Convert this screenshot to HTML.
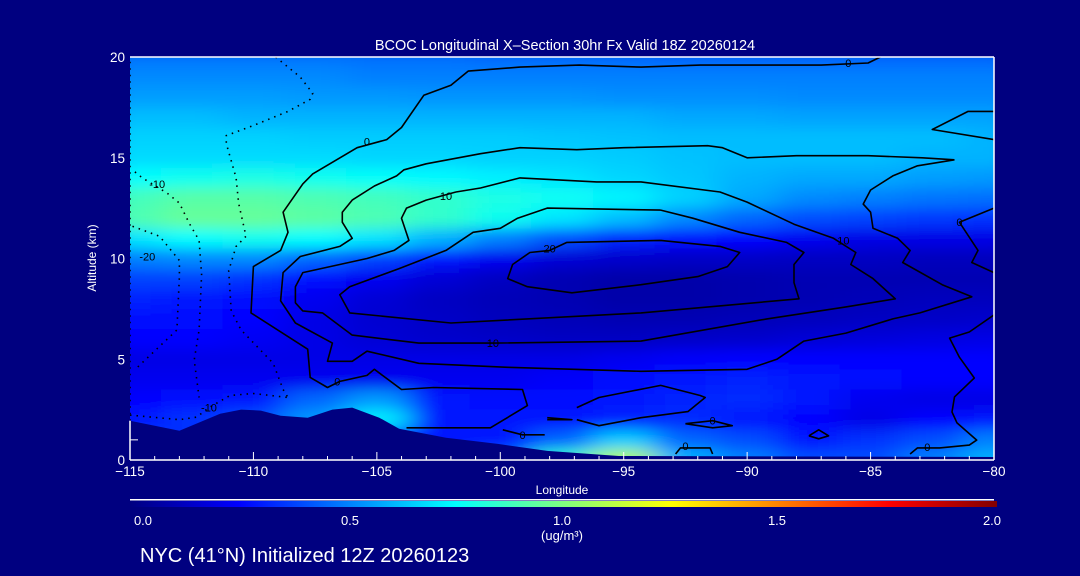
<!DOCTYPE html>
<html><head><meta charset="utf-8">
<style>
html,body{margin:0;padding:0;background:#000080;}
svg{display:block;font-family:"Liberation Sans",sans-serif;}
</style></head>
<body>
<svg id="chart" width="1080" height="576" viewBox="0 0 1080 576" xmlns="http://www.w3.org/2000/svg">
<defs>
  <clipPath id="plotclip"><rect x="130" y="57" width="864" height="403"/></clipPath>
  <filter id="smooth" x="-5%" y="-5%" width="110%" height="110%">
    <feGaussianBlur stdDeviation="16 7" edgeMode="duplicate"/>
  </filter>
  <linearGradient id="jet" x1="0" x2="1" y1="0" y2="0">
    <stop offset="0" stop-color="#000080"/>
    <stop offset="0.125" stop-color="#0000ff"/>
    <stop offset="0.375" stop-color="#00ffff"/>
    <stop offset="0.625" stop-color="#ffff00"/>
    <stop offset="0.875" stop-color="#ff0000"/>
    <stop offset="1" stop-color="#800000"/>
  </linearGradient>
</defs>
<rect x="0" y="0" width="1080" height="576" fill="#000080"/>
<text x="565" y="50" fill="#fff" font-size="14.5" text-anchor="middle">BCOC Longitudinal X–Section 30hr  Fx Valid 18Z 20260124</text>
<g id="field" clip-path="url(#plotclip)"><g id="cells" filter="url(#smooth)"></g></g>
<g id="terrain-g" clip-path="url(#plotclip)"></g>
<g id="contours" clip-path="url(#plotclip)"></g>
<g id="axes"></g>
<text transform="translate(96,258) rotate(-90)" fill="#fff" font-size="12" text-anchor="middle">Altitude (km)</text>
<text x="562" y="494" fill="#fff" font-size="12" text-anchor="middle">Longitude</text>
<rect x="130" y="499" width="864" height="1.5" fill="#fff"/>
<rect x="130" y="501" width="867" height="6" fill="url(#jet)"/>
<g fill="#fff" font-size="13" text-anchor="middle">
<text x="143" y="525">0.0</text>
<text x="350" y="525">0.5</text>
<text x="562" y="525">1.0</text>
<text x="777" y="525">1.5</text>
<text x="992" y="525">2.0</text>
<text x="562" y="540">(ug/m³)</text>
</g>
<text x="140" y="562" fill="#fff" font-size="20">NYC (41°N) Initialized 12Z 20260123</text>
</svg>
<script>
const lons=[-115,-112.5,-110,-107.5,-105,-102.5,-100,-97.5,-95,-92.5,-90,-87.5,-85,-82.5,-80];
const alts=[20,19,18,17,16,15,14,13,12,11,10,9,8,7,6,5,4,3,2,1,0];
const r20=[.48,.48,.48,.48,.47,.47,.46,.46,.46,.45,.45,.45,.45,.45,.45];
const r19=[.52,.52,.52,.52,.5,.5,.5,.5,.5,.5,.5,.5,.5,.5,.5];
const r18=[.56,.56,.56,.55,.55,.54,.54,.54,.53,.53,.53,.52,.52,.52,.52];
const r17=[.62,.62,.6,.6,.6,.6,.6,.6,.6,.58,.58,.57,.57,.57,.57];
const r16=[.66,.66,.66,.65,.65,.65,.65,.64,.63,.62,.62,.62,.62,.62,.6];
const r15=[.68,.68,.68,.68,.67,.67,.66,.66,.65,.63,.62,.62,.62,.6,.6];
const r14=[.75,.78,.8,.78,.76,.74,.72,.7,.67,.64,.6,.58,.58,.56,.55];
const r13=[.88,.92,.92,.9,.88,.85,.8,.77,.73,.66,.58,.52,.5,.48,.47];
const r12=[.9,.95,.95,.93,.9,.85,.78,.7,.62,.52,.45,.4,.38,.36,.35];
const r11=[.7,.75,.78,.75,.7,.6,.5,.4,.32,.28,.25,.22,.2,.2,.2];
const r10=[.5,.52,.52,.45,.38,.3,.22,.17,.15,.14,.14,.13,.13,.12,.12];
const r9=[.38,.38,.35,.28,.22,.17,.13,.1,.08,.08,.09,.1,.1,.1,.1];
const r8=[.32,.3,.27,.22,.17,.13,.11,.1,.08,.08,.09,.1,.11,.12,.12];
const r7=[.28,.27,.25,.2,.16,.14,.12,.11,.1,.1,.11,.12,.13,.14,.15];
const r6=[.25,.25,.23,.2,.17,.15,.14,.13,.13,.14,.15,.17,.18,.19,.2];
const r5=[.2,.2,.2,.2,.2,.2,.2,.2,.22,.24,.25,.25,.25,.25,.25];
const r4=[.22,.22,.22,.22,.22,.22,.22,.24,.27,.3,.32,.3,.27,.26,.25];
const r3=[.25,.28,.3,.45,.55,.3,.27,.28,.3,.32,.33,.3,.22,.2,.2];
const r2=[.3,.35,.4,.55,.72,.3,.3,.3,.32,.33,.3,.25,.2,.25,.3];
const r1=[.35,.35,.3,.3,.3,.3,.3,.45,.65,.45,.4,.3,.35,.4,.5];
const r0=[.3,.3,.3,.3,.3,.3,.45,.85,1.1,.6,.5,.4,.4,.5,.6];
const fieldRows=[r20,r19,r18,r17,r16,r15,r14,r13,r12,r11,r10,r9,r8,r7,r6,r5,r4,r3,r2,r1,r0];

const terrain=[[-115,1.95],[-113,1.45],[-111.35,2.3],[-110.5,2.5],[-109.7,2.45],[-108.9,2.2],[-107.8,2.1],[-106.8,2.5],[-106,2.6],[-104.9,2.1],[-104.1,1.55],[-102.2,1.1],[-100.1,0.8],[-98.1,0.45],[-95.2,0.2],[-80,0.15]];

const cA=[[-84.6,20],[-85.1,19.7],[-87,19.6],[-91.9,19.6],[-94.3,19.5],[-96.8,19.6],[-99.2,19.5],[-101.3,19.3],[-102,18.6],[-103.1,18.1],[-104,16.5],[-104.6,15.9],[-105.8,15.5],[-107.6,14.2],[-108,13.7],[-108.8,12.3],[-108.6,11.3],[-108.9,10.4],[-110,9.6],[-110.1,7.3],[-107.8,5.5],[-107.7,4.1],[-107,3.6],[-106.5,3.9],[-105.4,4.2],[-105.1,4.5],[-104,3.5],[-102.7,3.6],[-99.1,3.5],[-98.9,2.7],[-100.4,1.6],[-103.8,1.6]];
const cB=[[-80,7.2],[-81,6.35],[-81.8,6.05],[-81.4,5.1],[-80.8,4.07],[-81.6,3.13],[-81.7,2.38],[-81.5,1.84],[-80.7,0.99],[-81,0.74],[-82.2,0.6],[-83.1,0.6],[-83.4,0.3]];
const cC=[[-81.6,14.9],[-82.9,15],[-85.1,15.1],[-88,15.1],[-90,15],[-91,15.5],[-91.6,15.6],[-95,15.5],[-96.9,15.4],[-99.2,15.5],[-100.8,15.2],[-103,14.7],[-103.9,14.4],[-104.2,14.1],[-105.1,13.6],[-106,12.9],[-106.4,12.3],[-106.4,11.8],[-106,11],[-106.5,10.6],[-108.1,10.1],[-108.8,9.3],[-108.9,7.9],[-108.3,6.8],[-106.8,5.8],[-107,4.9],[-106,4.9],[-105.4,5.4],[-103.3,4.8],[-99.7,4.6],[-94.3,4.4],[-90,4.5],[-88.8,5],[-87.7,5.9],[-86,6.3],[-84.1,7],[-83,7.3],[-80.9,8.1],[-82.1,8.7],[-83.7,9.8],[-83.4,10.4],[-83.9,11],[-84.9,11.5],[-85,12.3],[-85.3,12.7],[-85,13.4],[-84.1,14.1],[-83.1,14.6],[-81.6,14.9]];
const c10=[[-101.8,13.3],[-103,12.9],[-103.8,12.5],[-104,12],[-103.7,10.9],[-104.3,10.4],[-105.4,10],[-108,9.3],[-108.3,8.6],[-108.3,7.8],[-108,7.4],[-107.2,7.3],[-106,6.2],[-103.3,5.8],[-100.3,5.8],[-94.3,5.9],[-89.2,7],[-86,7.6],[-84,8],[-84.9,9],[-85.8,9.7],[-85.6,10.3],[-86.5,11],[-88.1,11.7],[-90,12.8],[-91.1,13.3],[-94.3,13.8],[-96.1,13.8],[-99.2,14],[-100.8,13.5],[-101.8,13.3]];
const c4=[[-93.5,12.4],[-98.1,12.5],[-99.3,12],[-100,11.5],[-101.1,11.3],[-102.2,10.4],[-104.1,9.5],[-106.1,8.6],[-106.5,8.2],[-106.1,7.3],[-102,6.8],[-94.3,7.3],[-87.9,8],[-88.1,8.8],[-88.1,9.7],[-87.7,10.3],[-88.4,10.8],[-90.3,11.3],[-92.2,12],[-93.5,12.4]];
const c20=[[-93.5,10.9],[-97.3,10.8],[-98,10.4],[-98.8,10.3],[-99.5,9.7],[-99.7,9],[-98.9,8.6],[-97.1,8.3],[-94.3,8.7],[-92,9.1],[-90.8,9.6],[-90.3,10.3],[-91.1,10.6],[-93.5,10.9]];
const cE=[[-96.9,2.6],[-96,3.1],[-93.5,3.7],[-91.9,3.2],[-91.7,3.1],[-92.4,2.4],[-94.3,2.1],[-96,1.7],[-96.9,2]];
const cF=[[-92.5,1.8],[-91.4,1.95],[-90.6,1.7],[-91.4,1.6],[-92.5,1.8]];
const cG=[[-87.5,1.2],[-87.1,1.5],[-86.7,1.2],[-87.1,1.05],[-87.5,1.2]];
const cH=[[-92.9,0.3],[-92.7,0.6],[-91.5,0.6],[-91.4,0.3]];
const cI=[[-99.9,1.5],[-99.1,1.25],[-98.2,1.25]];
const cJ=[[-98.1,2.1],[-97.1,2.0],[-98.1,2.0]];
const cK=[[-80,17.3],[-81.05,17.3],[-82.5,16.4],[-80,15.9]];
const cL=[[-80,12.5],[-81.4,11.8],[-80.65,10.4],[-80.9,9.8],[-80,9.3]];
const solidContours=[cA,cB,cC,c10,c4,c20,cE,cF,cG,cH,cI,cJ,cK,cL];
const d1=[[-109.1,20],[-108.1,19],[-107.6,18.2],[-107.7,17.9],[-108.6,17.3],[-110,16.6],[-111.1,16.1],[-111.1,15.7],[-110.7,14],[-110.6,12.75],[-110.3,11.1],[-110.7,10.6],[-111,9.4],[-110.9,7.4],[-110.5,6.45],[-109.2,4.8],[-108.8,3.5],[-108.6,3.1]];
const d2=[[-114.8,14.3],[-114.5,14],[-113.5,13.25],[-113,12.75],[-112.6,11.75],[-112.2,10.9],[-112.1,9.2],[-112.2,6.45],[-112.4,4.96],[-112.2,3.1]];
const d3=[[-114.9,11.6],[-113.8,11.1],[-113,9.9],[-113,9.1],[-113.1,6.45],[-114.7,4.6]];
const d4=[[-115,2.23],[-113,2],[-112.3,2.13],[-111.8,2.6],[-110.95,3.2],[-110,3.3],[-108.6,3.1]];
const d5=[[-115,1.95],[-115,20]];
const dottedContours=[d1,d2,d3,d4,d5];
const labelText=["0","0","10","20","10","10","0","0","0","0","0","0","-10","-20","-10"];
const labelLon=[-105.4,-85.9,-102.2,-98.0,-86.1,-100.3,-106.6,-99.1,-91.4,-92.5,-82.7,-81.4,-113.9,-114.3,-111.8];
const labelAlt=[15.8,19.7,13.1,10.5,10.9,5.8,3.9,1.25,1.95,0.7,0.65,11.8,13.7,10.1,2.6];
const xTicks=[-115,-110,-105,-100,-95,-90,-85,-80];
const yTicks=[0,5,10,15,20];

const NS="http://www.w3.org/2000/svg";
const X0=130,X1=994,Y0=460,Y1=57;
function X(lon){return X0+(lon+115)*(X1-X0)/35;}
function Y(a){return Y0-a*(Y0-Y1)/20;}
function jet(v){
  let t=Math.max(0,Math.min(1,v/2));
  const st=[[0,0,0,128],[0.125,0,0,255],[0.375,0,255,255],[0.625,255,255,0],[0.875,255,0,0],[1,128,0,0]];
  for(let i=0;i<st.length-1;i++){
    if(t<=st[i+1][0]){
      const f=(t-st[i][0])/(st[i+1][0]-st[i][0]);
      const c=[1,2,3].map(k=>Math.round(st[i][k]+(st[i+1][k]-st[i][k])*f));
      return `rgb(${c[0]},${c[1]},${c[2]})`;
    }
  }
  return "rgb(128,0,0)";
}
function mk(tag,attrs,parent){const e=document.createElementNS(NS,tag);for(const k in attrs)e.setAttribute(k,attrs[k]);parent.appendChild(e);return e;}
function pts(arr){return arr.map(p=>X(p[0]).toFixed(1)+","+Y(p[1]).toFixed(1)).join(" ");}

const cells=document.getElementById("cells");
fieldRows.forEach((row,ri)=>{
  row.forEach((v,ci)=>{
    const x1=X(lons[ci]-1.25),x2=X(lons[ci]+1.25),y1=Y(alts[ri]+0.5),y2=Y(alts[ri]-0.5);
    const r=mk("rect",{x:x1,y:y1,width:x2-x1+0.5,height:y2-y1+0.5,fill:jet(v)},cells);
    
    
  });
});

const tg=document.getElementById("terrain-g");
const tp=mk("polygon",{points:pts(terrain)+" "+X(-80)+","+(Y0+5)+" "+X(-115)+","+(Y0+5),fill:"#000080"},tg);



const cg=document.getElementById("contours");
solidContours.forEach(c=>{
  const l=mk("polyline",{points:pts(c),fill:"none",stroke:"#000","stroke-width":"1.6","stroke-linejoin":"round"},cg);
  
  
});
dottedContours.forEach(c=>{
  const l=mk("polyline",{points:pts(c),fill:"none",stroke:"#000","stroke-width":"1.6","stroke-dasharray":"1.5 5"},cg);
  
  
});
labelText.forEach((t,i)=>{
  const e=mk("text",{x:X(labelLon[i]),y:Y(labelAlt[i])+4,"font-size":"11",fill:"#000","text-anchor":"middle"},cg);
  e.textContent=t;
  
  
});

const ax=document.getElementById("axes");
const frame=[["top",X0,Y1,X1,Y1],["right",X1,Y1,X1,Y0],["bottom",X0,Y0,X1,Y0],["left",X0,Y(1.95),X0,Y0]];
frame.forEach(f=>{
  const l=mk("line",{x1:f[1],y1:f[2],x2:f[3],y2:f[4],stroke:"#fff","stroke-width":"1.5"},ax);
  
  
});
for(let lon=-114;lon<-80;lon++){
  if(lon%5===0)continue;
  const l=mk("line",{x1:X(lon),y1:Y0,x2:X(lon),y2:Y0-4,stroke:"#fff","stroke-width":"1"},ax);
  
  
}
xTicks.forEach(v=>{
  const l=mk("line",{x1:X(v),y1:Y0,x2:X(v),y2:Y0-8,stroke:"#fff","stroke-width":"1"},ax);
  
  
  const t=mk("text",{x:X(v),y:Y0+16,fill:"#fff","font-size":"13.5","text-anchor":"middle"},ax);
  t.textContent="\u2212"+Math.abs(v);
  
  
});
yTicks.forEach(v=>{
  const t=mk("text",{x:X0-5,y:Y(v)+5,fill:"#fff","font-size":"13.5","text-anchor":"end"},ax);
  t.textContent=String(v);
  
  
});
const mt=mk("line",{x1:X0,y1:Y(1),x2:X0+8,y2:Y(1),stroke:"#fff","stroke-width":"1"},ax);


</script>
</body></html>
